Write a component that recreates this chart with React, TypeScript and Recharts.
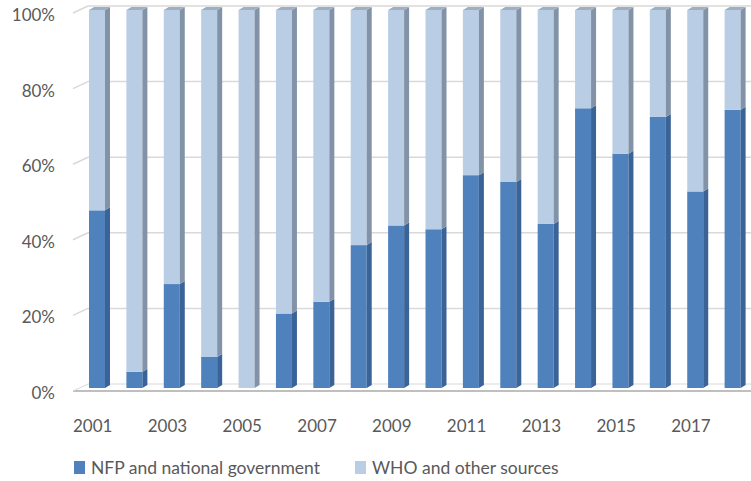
import React from 'react'
import { BarChart, Bar, XAxis, YAxis, CartesianGrid, Legend } from 'recharts'

const years = ['2001', '2002', '2003', '2004', '2005', '2006', '2007', '2008', '2009', '2010', '2011', '2012', '2013', '2014', '2015', '2016', '2017', '2018']
const nfp = [47, 4.3, 27.5, 8.2, 0, 19.7, 22.8, 37.8, 43, 42, 56.3, 54.5, 43.4, 74, 62, 71.7, 52, 73.6]
const who = [53, 95.7, 72.5, 91.8, 100, 80.3, 77.2, 62.2, 57, 58, 43.7, 45.5, 56.6, 26, 38, 28.3, 48, 26.4]
const yTicks = [0, 20, 40, 60, 80, 100]

const seriesNames = ['NFP and national government', 'WHO and other sources']
const colors = ['#4f81bd', '#b9cde5']

const data = years.map((year, i) => ({ year, nfp: nfp[i], who: who[i] }))

const FONT = 'Lato, "Open Sans", sans-serif'
const DEPTH_X = 5
const DEPTH_Y = 3

function makeShape(front: string, side: string, top: string | null) {
  return (props: any) => {
    const { x, y, width, height } = props
    if (!height || height <= 0) return <g />
    return (
      <g>
        <rect x={x} y={y} width={width} height={height} fill={front} />
        <polygon
          points={`${x + width},${y} ${x + width + DEPTH_X},${y - DEPTH_Y} ${x + width + DEPTH_X},${y + height - DEPTH_Y} ${x + width},${y + height}`}
          fill={side}
        />
        {top && (
          <polygon
            points={`${x},${y} ${x + DEPTH_X},${y - DEPTH_Y} ${x + width + DEPTH_X},${y - DEPTH_Y} ${x + width},${y}`}
            fill={top}
          />
        )}
      </g>
    )
  }
}

const gridLine = (props: any) => {
  const { x1, x2, y1, index } = props
  const isFloor = Math.abs(y1 - 388) < 2
  if (isFloor) {
    return (
      <g key={`g-${index}`}>
        <line x1={x1 + 10} x2={x2} y1={y1 - 4} y2={y1 - 4} stroke="#d9d9d9" strokeWidth={1} />
        <line x1={x1 - 5} x2={x2} y1={y1 + 3} y2={y1 + 3} stroke="#bfbfbf" strokeWidth={2} />
        <line x1={x1 - 5} x2={x1 + 10} y1={y1 + 3} y2={y1 - 4} stroke="#d9d9d9" strokeWidth={1} />
      </g>
    )
  }
  return (
    <g key={`g-${index}`}>
      <line x1={x1 + 10} x2={x2} y1={y1 - 4} y2={y1 - 4} stroke="#d9d9d9" strokeWidth={1.5} />
      <line x1={x1 - 5} x2={x1 + 10} y1={y1 + 3} y2={y1 - 4} stroke="#d9d9d9" strokeWidth={1.5} />
    </g>
  )
}

const YTick = (props: any) => {
  const { y, payload } = props
  return (
    <text x={55} y={y + 5} dy="0.35em" textAnchor="end" fill="#595959" fontSize={17} fontFamily={FONT}>
      {payload.value}%
    </text>
  )
}

const XTick = (props: any) => {
  const { x, y, payload } = props
  return (
    <text x={x - 4} y={y + 30} dy="0.35em" textAnchor="middle" fill="#595959" fontSize={17} fontFamily={FONT}>
      {payload.value}
    </text>
  )
}

const LegendContent = () => (
  <div style={{ display: 'flex', fontFamily: FONT, fontSize: 17.5, color: '#595959', whiteSpace: 'nowrap' }}>
    {seriesNames.map((name, i) => (
      <div key={name} style={{ display: 'flex', alignItems: 'center', marginRight: i === 0 ? 35 : 0 }}>
        <span style={{ display: 'inline-block', width: 11, height: 13, background: colors[i], marginRight: 6 }} />
        {name}
      </div>
    ))}
  </div>
)

export default function App() {
  return (
    <div style={{ width: 751, height: 481, background: '#fff' }}>
      <style>{`body{margin:0}`}</style>
      <BarChart width={751} height={481} data={data} margin={{ top: 10, right: 0, left: 0, bottom: 0 }} barSize={16}>
        <CartesianGrid vertical={false} horizontal={gridLine} />
        <XAxis dataKey="year" interval={1} tickLine={false} axisLine={false} height={93} tick={<XTick />} />
        <YAxis domain={[0, 100]} ticks={yTicks} width={78} tickLine={false} axisLine={false} tick={<YTick />} />
        <Legend
          verticalAlign="middle"
          align="center"
          content={<LegendContent />}
          wrapperStyle={{ top: 457, left: 74, width: 'auto' }}
        />
        <Bar dataKey="nfp" stackId="a" name={seriesNames[0]} fill={colors[0]} isAnimationActive={false} shape={makeShape(colors[0], '#3a6397', null)} />
        <Bar dataKey="who" stackId="a" name={seriesNames[1]} fill={colors[1]} isAnimationActive={false} shape={makeShape(colors[1], '#8293a8', '#9eafc4')} />
      </BarChart>
    </div>
  )
}
